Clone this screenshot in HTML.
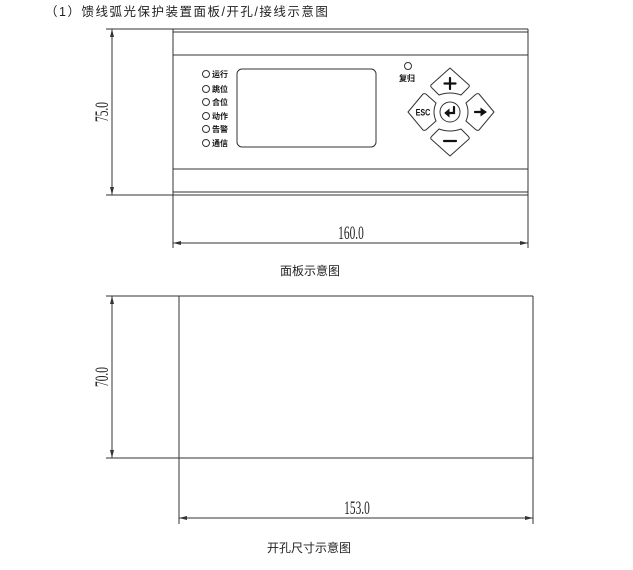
<!DOCTYPE html>
<html><head><meta charset="utf-8"><style>
html,body{margin:0;padding:0;background:#fff;width:633px;height:570px;overflow:hidden}
svg{display:block}
</style></head><body>
<svg width="633" height="570" viewBox="0 0 633 570" xmlns="http://www.w3.org/2000/svg">
<g font-family="'Liberation Sans','Noto Sans CJK SC',sans-serif">
<text x="45" y="16" font-size="12.5" fill="#222" letter-spacing="1.5">（1）馈线弧光保护装置面板/开孔/接线示意图</text>
</g>
<g stroke="#333" stroke-width="1" fill="none">
<line x1="106" y1="29" x2="528" y2="29"/>
<line x1="173" y1="32" x2="528" y2="32"/>
<line x1="173" y1="55" x2="528" y2="55"/>
<line x1="173" y1="169" x2="528" y2="169"/>
<line x1="173" y1="192" x2="528" y2="192"/>
<line x1="106" y1="195" x2="528" y2="195"/>
<line x1="173" y1="29" x2="173" y2="248"/>
<line x1="528" y1="29" x2="528" y2="248"/>
<line x1="112" y1="29" x2="112" y2="195"/>
<line x1="173" y1="243" x2="528" y2="243"/>
<rect x="237" y="69" width="139" height="78" rx="5"/>
<circle cx="206" cy="74" r="3.5"/><circle cx="206" cy="89" r="3.5"/><circle cx="206" cy="102" r="3.5"/>
<circle cx="206" cy="116" r="3.5"/><circle cx="206" cy="129" r="3.5"/><circle cx="206" cy="143" r="3.5"/>
<circle cx="408" cy="66" r="3.5"/>
<g stroke-linejoin="round">
<path d="M450 68 L469 85 Q470 86 468 88 L461 95 Q450 91 439 95 L432 88 Q430 86 431 85 Z"/>
<path d="M450 156 L469 139 Q470 138 468 136 L461 129 Q450 133 439 129 L432 136 Q430 138 431 139 Z"/>
<path d="M408 112 L423 94 Q425 93 427 95 L436 103 Q432 112 436 121 L427 129 Q425 131 423 130 Z"/>
<path d="M494 112 L479 94 Q477 93 475 95 L466 103 Q470 112 466 121 L475 129 Q477 131 479 130 Z"/>
</g>
<circle cx="450" cy="112" r="10"/>
<line x1="106" y1="296" x2="533" y2="296"/>
<line x1="106" y1="458" x2="533" y2="458"/>
<line x1="179" y1="296" x2="179" y2="524"/>
<line x1="533" y1="296" x2="533" y2="524"/>
<line x1="112" y1="296" x2="112" y2="458"/>
<line x1="179" y1="518" x2="533" y2="518"/>
</g>
<g fill="#333">
<path d="M112 29 l-2 8 h4z"/><path d="M112 195 l-2 -8 h4z"/>
<path d="M173 243 l8 -2 v4z"/><path d="M528 243 l-8 -2 v4z"/>
<path d="M112 296 l-2 8 h4z"/><path d="M112 458 l-2 -8 h4z"/>
<path d="M179 518 l8 -2 v4z"/><path d="M533 518 l-8 -2 v4z"/>
</g>
<g fill="#111" stroke="#111" stroke-width="2.2" stroke-linecap="round">
<line x1="450" y1="78" x2="450" y2="89"/><line x1="444.5" y1="83.5" x2="455.5" y2="83.5"/>
<line x1="444" y1="141" x2="456" y2="141"/>
<line x1="475" y1="112" x2="485" y2="112"/>
<path d="M481 108.5 L486 112 L481 115.5 Z" stroke-width="1"/>
<path d="M454 107 V113 H446" fill="none"/>
<path d="M445 113 L449 109.5 V116.5 Z" stroke-width="1"/>
</g>
<g font-family="'Liberation Sans','Noto Sans CJK SC',sans-serif" font-weight="bold" font-size="8" fill="#111">
<text x="212" y="77">运行</text><text x="212" y="92">跳位</text><text x="212" y="105">合位</text>
<text x="212" y="119">动作</text><text x="212" y="132">告警</text><text x="212" y="146">通信</text>
<text x="399" y="81">复归</text>
<text x="423" y="115.5" text-anchor="middle" font-size="9" transform="translate(423 0) scale(0.8 1) translate(-423 0)">ESC</text>
</g>
<g font-family="'Liberation Serif',serif" font-size="19" fill="#222">
<text x="0" y="0" text-anchor="middle" transform="translate(351 239) scale(0.6 1)">160.0</text>
<text x="0" y="0" text-anchor="middle" transform="translate(357 514) scale(0.6 1)">153.0</text>
<text x="0" y="0" text-anchor="middle" transform="translate(108 112) rotate(-90) scale(0.6 1)">75.0</text>
<text x="0" y="0" text-anchor="middle" transform="translate(108 377) rotate(-90) scale(0.6 1)">70.0</text>
</g>
<g font-family="'Liberation Sans','Noto Sans CJK SC',sans-serif" font-size="12" fill="#222">
<text x="310" y="275" text-anchor="middle">面板示意图</text>
<text x="309" y="552" text-anchor="middle">开孔尺寸示意图</text>
</g>
</svg>
</body></html>
